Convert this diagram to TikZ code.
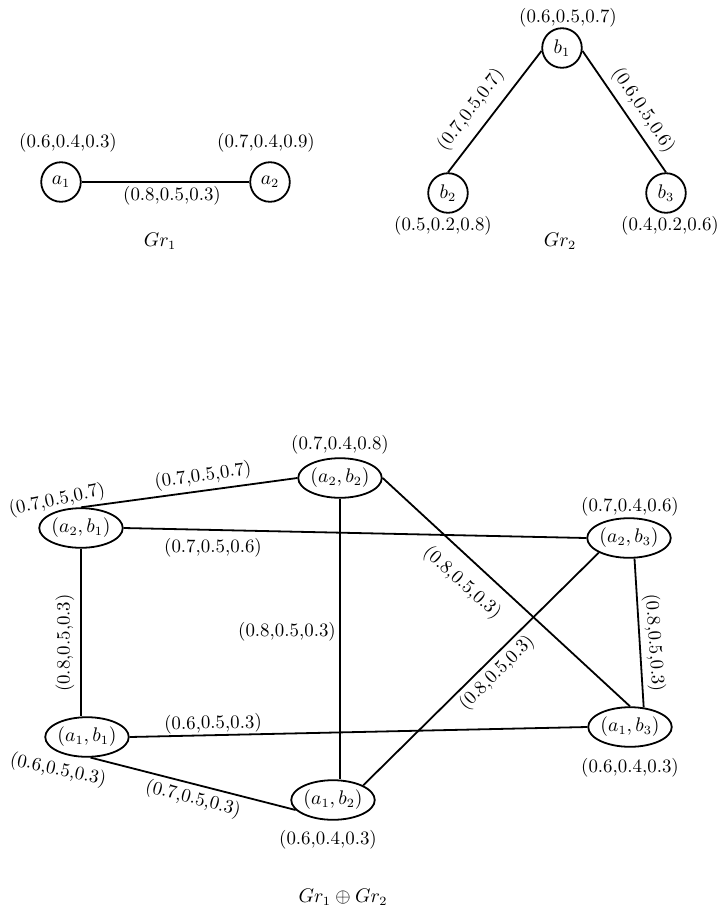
\documentclass[tikz,border=0pt]{standalone}
\usetikzlibrary{shapes.geometric}
\begin{document}
\begin{tikzpicture}[x=0.556pt,y=-0.556pt,
  every node/.style={font=\fontsize{10.5pt}{12pt}\selectfont},
  vtx/.style={draw,circle,line width=1pt,minimum size=22pt,inner sep=0pt},
  pvtx/.style={draw,ellipse,line width=1pt,minimum width=40pt,minimum height=22pt,inner sep=0pt},
  edge/.style={line width=1pt},
  val/.style={inner sep=1pt},
  gtitle/.style={inner sep=1pt}]
\useasboundingbox (0,0) rectangle (718,909);

% ---- graph Gr_1 ----
\node[vtx] (a1) at (61,182) {$a_1$};
\node[vtx] (a2) at (270,182) {$a_2$};
\node[val] (la1) at (68,143) {(0.6,0.4,0.3)};
\node[val] (la2) at (266,143) {(0.7,0.4,0.9)};
\draw[edge] (a1) -- (a2);
\node[val] (ea1a2) at (172,196) {(0.8,0.5,0.3)};
\node[gtitle] (g1) at (160,241) {$Gr_1$};

% ---- graph Gr_2 ----
\node[vtx] (b1) at (562,48) {$b_1$};
\node[vtx] (b2) at (448,193) {$b_2$};
\node[vtx] (b3) at (666,193) {$b_3$};
\node[val] (lb1) at (568,18) {(0.6,0.5,0.7)};
\node[val] (lb2) at (443,226) {(0.5,0.2,0.8)};
\node[val] (lb3) at (670,226) {(0.4,0.2,0.6)};
\draw[edge] (b1.188) -- (b2.north);
\draw[edge] (b1.-8) -- (b3.north);
\node[val,rotate=53] (eb1b2) at (471,110) {(0.7,0.5,0.7)};
\node[val,rotate=-56] (eb1b3) at (643,110) {(0.6,0.5,0.6)};
\node[gtitle] (g2) at (560,241) {$Gr_2$};

% ---- direct sum Gr_1 + Gr_2 ----
\node[pvtx] (a2b2) at (340,478) {$(a_2,b_2)$};
\node[pvtx] (a2b1) at (81,528) {$(a_2,b_1)$};
\node[pvtx] (a2b3) at (629,538) {$(a_2,b_3)$};
\node[pvtx] (a1b1) at (87,737) {$(a_1,b_1)$};
\node[pvtx,minimum width=45.5pt] (a1b2) at (333,800) {$(a_1,b_2)$};
\node[pvtx] (a1b3) at (630,727) {$(a_1,b_3)$};

\node[val] (la2b2) at (340,445) {(0.7,0.4,0.8)};
\node[val,rotate=12] (la2b1) at (57,500) {(0.7,0.5,0.7)};
\node[val] (la2b3) at (630,507) {(0.7,0.4,0.6)};
\node[val,rotate=-12] (la1b1) at (58,770) {(0.6,0.5,0.3)};
\node[val] (la1b2) at (328,840) {(0.6,0.4,0.3)};
\node[val] (la1b3) at (630,768) {(0.6,0.4,0.3)};

\draw[edge] (a2b1.north) -- (a2b2.west);
\draw[edge] (a2b1.east) -- (a2b3.west);
\draw[edge] (a2b1.south) -- (a2b1.south |- a1b1.north);
\draw[edge] (a2b2.south) -- (a2b2.south |- a1b2.north);
\draw[edge] (a2b2.east) -- (a1b3.north);
\draw[edge] (a2b3.south west) -- (a1b2.north east);
\draw[edge] (a2b3.-75) -- (a1b3.55);
\draw[edge] (a1b1.east) -- (a1b3.west);
\draw[edge] (a1b1.-80) -- (a1b2.195);

\node[val,rotate=8] (e1) at (203,476) {(0.7,0.5,0.7)};
\node[val] (e2) at (213,548) {(0.7,0.5,0.6)};
\node[val,rotate=90] (e3) at (65,643) {(0.8,0.5,0.3)};
\node[val] (e4) at (287,632) {(0.8,0.5,0.3)};
\node[val,rotate=-42] (e5) at (462,583) {(0.8,0.5,0.3)};
\node[val,rotate=45] (e6) at (497,673) {(0.8,0.5,0.3)};
\node[val,rotate=-86] (e7) at (654,643) {(0.8,0.5,0.3)};
\node[val,rotate=1.2] (e8) at (213,724) {(0.6,0.5,0.3)};
\node[val,rotate=-14.6] (e9) at (193,799) {(0.7,0.5,0.3)};

\node[gtitle] (g12) at (343,897) {$Gr_1\oplus Gr_2$};
\end{tikzpicture}
\end{document}
